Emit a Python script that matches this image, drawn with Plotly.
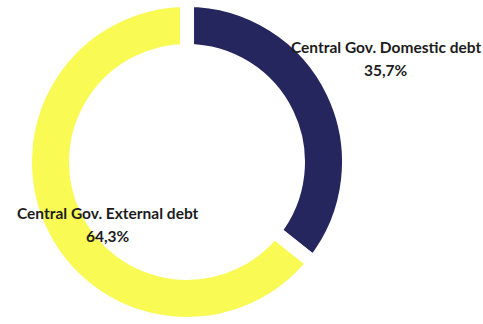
import plotly.graph_objects as go

# Central government debt structure
categories = ["Central Gov. Domestic debt", "Central Gov. External debt"]
shares = [35.7, 64.3]
colors = ["#26265E", "#FAFA55"]

# label anchor positions in pixels (x centre, y of first line from top)
label_x_px = [386, 108]
label_y_px = [47, 213]
line_gap_px = 23

W, H = 483, 324

fig = go.Figure(
    go.Pie(
        labels=categories,
        values=shares,
        sort=False,
        direction="clockwise",
        rotation=0,
        hole=0.685,
        marker=dict(colors=colors, line=dict(color="white", width=14)),
        textinfo="none",
        hoverinfo="label+percent",
        showlegend=False,
        domain=dict(x=[0.0518, 0.7226], y=[0, 1]),
    )
)

for name, val, xp, yp in zip(categories, shares, label_x_px, label_y_px):
    pct = f"{val:.1f}%".replace(".", ",")
    for i, line in enumerate([name, pct]):
        fig.add_annotation(
            x=xp / W, y=1 - (yp + i * line_gap_px) / H,
            xref="paper", yref="paper",
            xanchor="center", yanchor="middle",
            text=f"<b>{line}</b>",
            showarrow=False,
            font=dict(family="Lato", size=15.5, color="#1c1c1c"),
        )

fig.update_layout(
    width=W, height=H,
    margin=dict(l=0, r=0, t=0, b=0),
    paper_bgcolor="white",
    plot_bgcolor="white",
)

fig.write_html("out.html")
